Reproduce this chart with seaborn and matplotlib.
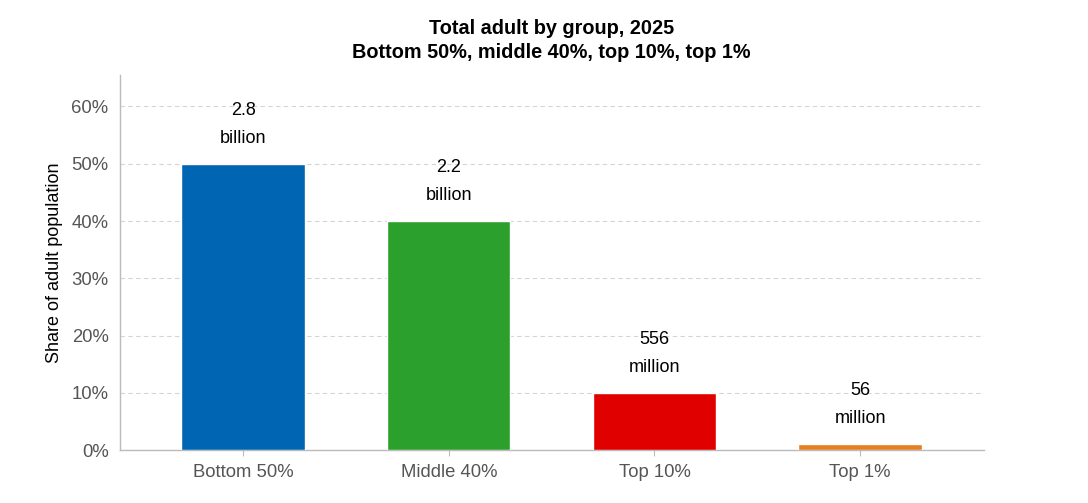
import matplotlib.pyplot as plt
import seaborn as sns
import pandas as pd

groups = ['Bottom 50%', 'Middle 40%', 'Top 10%', 'Top 1%']
shares = [50, 40, 10, 1]
labels = ['2.8\nbillion', '2.2\nbillion', '556\nmillion', '56\nmillion']
colors = ['#0066b3', '#2ca02c', '#e00000', '#e67e22']

df = pd.DataFrame({'group': groups, 'share': shares})

sns.set_style('white')
plt.rcParams['font.family'] = ['Liberation Sans', 'DejaVu Sans']

fig, ax = plt.subplots(figsize=(10.88, 5.03), dpi=100)
fig.subplots_adjust(left=0.11, right=0.904, top=0.851, bottom=0.105)

sns.barplot(data=df, x='group', y='share', hue='group', palette=colors,
            width=0.6, saturation=1, legend=False, ax=ax, zorder=3)

for i, (v, lab) in enumerate(zip(shares, labels)):
    ax.text(i, v + 3, lab, ha='center', va='bottom', fontsize=13,
            color='black', linespacing=1.85)

ax.set_xlim(-0.6, 3.6)
ax.set_ylim(0, 65.5)
ax.set_yticks(range(0, 61, 10))
ax.set_yticklabels([f'{t}%' for t in range(0, 61, 10)])
ax.yaxis.grid(True, linestyle=(0, (4, 3)), color='#d5d5d5', linewidth=0.8, zorder=0)
ax.xaxis.grid(False)

for s in ['top', 'right']:
    ax.spines[s].set_visible(False)
for s in ['left', 'bottom']:
    ax.spines[s].set_color('#bbbbbb')
    ax.spines[s].set_linewidth(1)

ax.tick_params(axis='y', length=0, labelsize=13.3, labelcolor='#555555', pad=8)
ax.tick_params(axis='x', length=4, color='#bbbbbb', labelsize=13.3,
               labelcolor='#555555', pad=6, bottom=True)

ax.set_xlabel('')
ax.set_ylabel('Share of adult population', fontsize=13, color='black', labelpad=6)
ax.set_title('Total adult by group, 2025\nBottom 50%, middle 40%, top 10%, top 1%',
             fontsize=14.3, fontweight='bold', color='black', pad=12, linespacing=1.35)

plt.savefig('out.png', dpi=100)
